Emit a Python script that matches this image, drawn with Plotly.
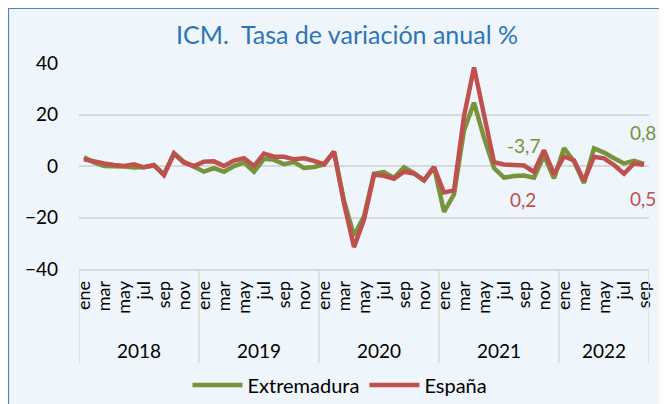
import plotly.graph_objects as go

years = ["2018", "2019", "2020", "2021", "2022"]
months = ["ene", "feb", "mar", "abr", "may", "jun", "jul", "ago", "sep", "oct", "nov", "dic"]
months_per_year = [12, 12, 12, 12, 9]

extremadura = [3.4, 1.4, 0.0, 0.0, -0.2, -0.6, -0.5, 0.2, -3.3, 5.0, 1.6, -0.3,
               -2.2, -0.8, -2.2, 0.0, 1.3, -2.2, 2.8, 2.4, 0.7, 1.5, -0.8, -0.4,
               0.6, 5.6, -13.5, -27.0, -19.5, -3.0, -2.4, -4.6, -0.5, -2.8, -5.6, -0.4,
               -17.8, -11.0, 13.8, 24.6, 11.0, -0.8, -4.5, -3.9, -3.7, -4.5, 4.0, -4.8,
               6.9, 1.8, -6.6, 6.9, 5.2, 3.0, 1.0, 2.0, 0.8]
espana = [2.6, 1.7, 1.0, 0.4, 0.0, 0.7, -0.5, 0.4, -3.5, 4.8, 1.3, 0.0,
          1.7, 1.8, 0.0, 2.1, 3.0, 0.0, 4.8, 3.6, 3.6, 2.6, 3.0, 2.0,
          0.6, 5.6, -14.5, -31.5, -20.8, -3.4, -3.8, -5.0, -2.2, -2.9, -5.6, -0.4,
          -10.3, -9.5, 19.3, 38.3, 19.8, 1.5, 0.6, 0.5, 0.2, -2.3, 6.1, -3.2,
          3.7, 2.2, -5.8, 3.6, 3.0, 0.4, -3.0, 1.0, 0.5]
y_ticks = [-40, -20, 0, 20, 40]

# category positions
labels = []
for yr, n in zip(years, months_per_year):
    for m in months[:n]:
        labels.append(m)
xs = list(range(len(labels)))
tickvals = [i for i in xs if i % 2 == 0]
ticktext = [labels[i] for i in tickvals]

GREEN = "#77933C"
RED = "#C0504D"
BG = "#EEF5FB"
FONT = "Lato"

fig = go.Figure()
fig.add_trace(go.Scatter(x=xs, y=extremadura, mode="lines", name="Extremadura",
                         line=dict(color=GREEN, width=4.5)))
fig.add_trace(go.Scatter(x=xs, y=espana, mode="lines", name="España",
                         line=dict(color=RED, width=4.5)))

# page has an 8px body margin; the figure fills the rest of the window
OFF = 8
W, H = 667 - OFF, 404 - OFF
L, T = 79 - OFF, 63 - OFF
R = 18
B = H - T - 206
pw, ph = W - L - R, H - T - B

def px_to_paper_x(px):  # px in window coordinates
    return (px - OFF - L) / pw

def px_to_paper_y(py):
    return (H - B - (py - OFF)) / ph

shapes = []
# background panel with blue border
shapes.append(dict(type="rect", xref="paper", yref="paper",
                   x0=px_to_paper_x(8.5), x1=px_to_paper_x(700),
                   y0=px_to_paper_y(440), y1=px_to_paper_y(8.5),
                   fillcolor=BG, line=dict(color="#4A86C8", width=1.2), layer="below"))

# year separators
bounds = [-0.5]
acc = -0.5
for n in months_per_year:
    acc += n
    bounds.append(acc)
for b in bounds:
    shapes.append(dict(type="line", xref="x", yref="paper", x0=b, x1=b,
                       y0=0, y1=px_to_paper_y(363),
                       line=dict(color="#D9D9D9", width=1.5)))

annotations = []
start = 0
for yr, n in zip(years, months_per_year):
    annotations.append(dict(x=start + (n - 1) / 2, y=px_to_paper_y(350), xref="x", yref="paper",
                            text=yr, showarrow=False, yanchor="middle",
                            font=dict(family=FONT, size=19, color="#000000")))
    start += n

def fmt(v):
    return f"{v:.1f}".replace(".", ",")

label_points = [(44, extremadura, GREEN, 30), (44, espana, RED, -34),
                (56, extremadura, GREEN, 31), (56, espana, RED, -34)]
for i, series, col, shift in label_points:
    annotations.append(dict(x=i, y=series[i], xref="x", yref="y", text=fmt(series[i]),
                            showarrow=False, yshift=shift, xshift=-1,
                            font=dict(family=FONT, size=19, color=col)))

fig.update_layout(
    width=W, height=H, autosize=False,
    margin=dict(l=L, r=R, t=T, b=B, autoexpand=False),
    paper_bgcolor="white", plot_bgcolor=BG,
    font=dict(family=FONT, size=18, color="#000000"),
    title=dict(text="ICM.  Tasa de variación anual %", x=(347 - OFF) / W, xanchor="center",
               y=1 - (35 - OFF) / H, yanchor="middle",
               font=dict(family=FONT, size=25, color="#2E75B6")),
    showlegend=True,
    legend=dict(orientation="h", xref="container", x=(340 - OFF) / W, xanchor="center",
                yref="container", y=1 - (385 - OFF) / H, yanchor="middle",
                font=dict(family=FONT, size=20, color="#000000"),
                bgcolor="rgba(0,0,0,0)", itemwidth=50, tracegroupgap=0),
    shapes=shapes, annotations=annotations,
)
fig.update_xaxes(range=[-0.5, len(xs) - 0.5], tickmode="array", tickvals=tickvals,
                 ticktext=ticktext, tickangle=-90, showgrid=False, zeroline=False,
                 showline=True, linecolor="#D9D9D9", linewidth=1.5,
                 ticks="", ticklabelstandoff=3, automargin=False,
                 tickfont=dict(family=FONT, size=18, color="#000000"))
fig.update_yaxes(range=[-40, 40], tickmode="array", tickvals=y_ticks,
                 showgrid=True, gridcolor="#D9D9D9", gridwidth=1.5,
                 zeroline=False, showline=False, ticks="", ticklabelstandoff=20,
                 automargin=False,
                 tickfont=dict(family=FONT, size=19, color="#000000"))

fig.write_html("out.html")
